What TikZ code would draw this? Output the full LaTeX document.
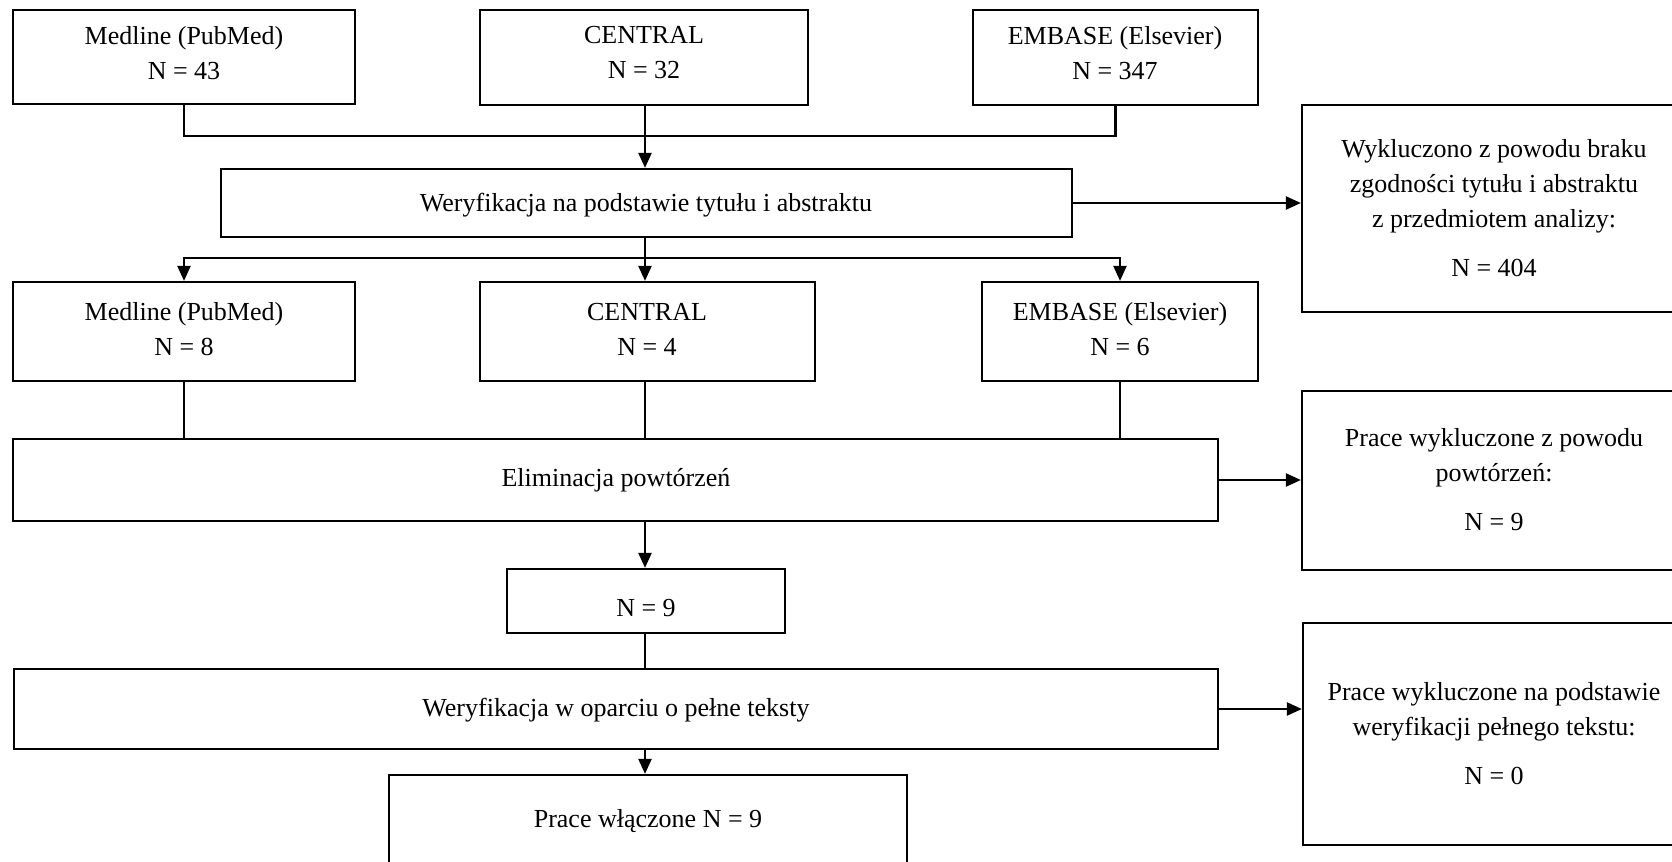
\documentclass[tikz,border=0pt]{standalone}
\usepackage{fontspec}
\setmainfont{Liberation Serif}
\usetikzlibrary{arrows.meta,fit}
\begin{document}
\begin{tikzpicture}[x=0.5pt,y=-0.5pt,
  font=\fontsize{13}{17.5}\selectfont,
  box/.style={draw, line width=1.1pt, inner sep=0pt},
  txt/.style={inner sep=0pt, align=center},
  conn/.style={line width=1.1pt},
  arr/.style={line width=1.1pt, -{Triangle[length=7.5pt,width=6.5pt]}}]
\useasboundingbox (0,0) rectangle (1672,862);
\clip (0,0) rectangle (1672,862);
\fill[white] (0,0) rectangle (1672,862);
% top row
\node[box, fit={(13,10) (355,104)}] (m1) {};
\node[txt] (m1t) at (184,53) {Medline (PubMed)\\N = 43};
\node[box, fit={(480,10) (808,105)}] (c1) {};
\node[txt] (c1t) at (644,53) {CENTRAL\\N = 32};
\node[box, fit={(973,10) (1258,105)}] (e1) {};
\node[txt] (e1t) at (1115,53) {EMBASE (Elsevier)\\N = 347};
% screening
\node[box, fit={(221,169) (1072,237)}] (w1) {};
\node[txt] (w1t) at (646,205) {Weryfikacja na podstawie tytułu i abstraktu};
\node[box, fit={(1302,105) (1688,312)}] (x1) {};
\node[txt] (x1t) at (1494,208) {Wykluczono z powodu braku\\zgodności tytułu i abstraktu\\z przedmiotem analizy:\\[7pt]N = 404};
% second row
\node[box, fit={(13,282) (355,381)}] (m2) {};
\node[txt] (m2t) at (184,329) {Medline (PubMed)\\N = 8};
\node[box, fit={(480,282) (815,381)}] (c2) {};
\node[txt] (c2t) at (647,329) {CENTRAL\\N = 4};
\node[box, fit={(982,282) (1258,381)}] (e2) {};
\node[txt] (e2t) at (1120,329) {EMBASE (Elsevier)\\N = 6};
% duplicates
\node[box, fit={(13,439) (1218,521)}] (el) {};
\node[txt] (elt) at (616,480) {Eliminacja powtórzeń};
\node[box, fit={(1302,391) (1688,570)}] (x2) {};
\node[txt] (x2t) at (1494,480) {Prace wykluczone z powodu\\powtórzeń:\\[7pt]N = 9};
\node[box, fit={(507,569) (785,633)}] (n9) {};
\node[txt] (n9t) at (646,608) {N = 9};
% full text
\node[box, fit={(14,669) (1218,749)}] (w2) {};
\node[txt] (w2t) at (616,710) {Weryfikacja w oparciu o pełne teksty};
\node[box, fit={(1303,623) (1688,845)}] (x3) {};
\node[txt] (x3t) at (1494,734) {Prace wykluczone na podstawie\\weryfikacji pełnego tekstu:\\[7pt]N = 0};
\node[box, fit={(389,775) (907,868)}] (pw) {};
\node[txt] (pwt) at (648,821) {Prace włączone N = 9};
% connectors
\coordinate (j1) at (645,136);
\coordinate (j2) at (645,258);
\draw[conn] (m1.south) -- (m1.south |- j1) -- (e1.south |- j1) -- (e1.south);
\draw[arr] (j1 |- c1.south) -- (j1 |- w1.north);
\draw[arr] (w1.east) -- (w1.east -| x1.west);
\draw[conn] (j2 |- w1.south) -- (j2);
\draw[arr] (j2) -| (m2.north);
\draw[arr] (j2) -| (e2.north);
\draw[arr] (j2) -- (j2 |- c2.north);
\draw[conn] (m2.south) -- (m2.south |- el.north);
\draw[conn] (j2 |- c2.south) -- (j2 |- el.north);
\draw[conn] (e2.south) -- (e2.south |- el.north);
\draw[arr] (el.east) -- (el.east -| x2.west);
\draw[arr] (j2 |- el.south) -- (j2 |- n9.north);
\draw[conn] (j2 |- n9.south) -- (j2 |- w2.north);
\draw[arr] (w2.east) -- (w2.east -| x3.west);
\draw[arr] (j2 |- w2.south) -- (j2 |- pw.north);
\end{tikzpicture}
\end{document}
